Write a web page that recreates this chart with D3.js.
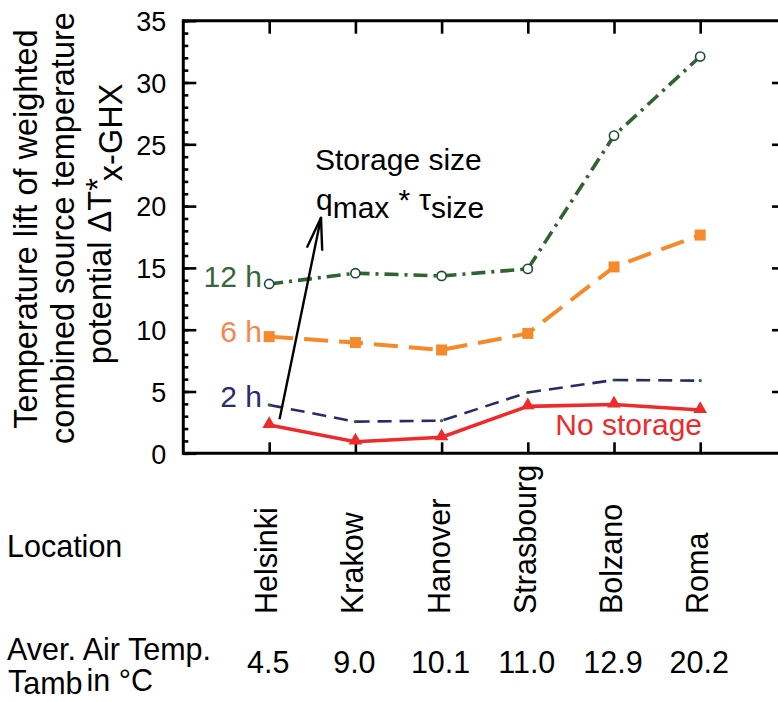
<!DOCTYPE html>
<html>
<head>
<meta charset="utf-8">
<script src="https://cdn.jsdelivr.net/npm/d3@7"></script>
<style>
  html, body { margin: 0; padding: 0; background: #fff; }
  svg { display: block; }
  text { font-family: "Liberation Sans", Arial, sans-serif; }
</style>
</head>
<body>
<svg id="chart" width="778" height="702"></svg>
<script>
// ---- data ----
const cities = ["Helsinki", "Krakow", "Hanover", "Strasbourg", "Bolzano", "Roma"];
const tAmb = ["4.5", "9.0", "10.1", "11.0", "12.9", "20.2"];
const noStorage = [2.29, 0.94, 1.30, 3.80, 3.95, 3.50];
const storage2h = [3.91, 2.56, 2.64, 4.92, 5.93, 5.88];
const storage6h = [9.44, 8.96, 8.36, 9.70, 15.08, 17.66];
const storage12h = [13.7, 14.57, 14.35, 14.92, 25.7, 32.1];
const yMajorTicks = [0, 5, 10, 15, 20, 25, 30, 35];
const yMinorTicks = d3.range(0, 36, 1);

// ---- layout ----
const svg = d3.select("#chart");
const frame = { left: 183.3, right: 785, top: 20.7, bottom: 453.3 };

const x = d3.scalePoint().domain(cities).range([269.2, 700.2]);
const y = d3.scaleLinear().domain([0, 35]).range([frame.bottom, frame.top]);

// frame lines
const axisStroke = "#000";
svg.append("line").attr("x1", frame.left).attr("x2", frame.right).attr("y1", frame.top).attr("y2", frame.top)
  .attr("stroke", axisStroke).attr("stroke-width", 3);
svg.append("line").attr("x1", frame.left).attr("x2", frame.right).attr("y1", frame.bottom).attr("y2", frame.bottom)
  .attr("stroke", axisStroke).attr("stroke-width", 3);
svg.append("line").attr("x1", frame.left).attr("x2", frame.left).attr("y1", frame.top - 1.5).attr("y2", frame.bottom + 1.5)
  .attr("stroke", axisStroke).attr("stroke-width", 3);

function styleAxis(g) {
  g.select(".domain").remove();
  g.selectAll(".tick line").attr("stroke", "#000").attr("stroke-width", 2.6);
}

// left minor ticks
svg.append("g").attr("transform", `translate(${frame.left},0)`)
  .call(d3.axisLeft(y).tickValues(yMinorTicks).tickSize(-5).tickFormat(""))
  .call(styleAxis);
// left major ticks + labels
const leftAxis = svg.append("g").attr("transform", `translate(${frame.left},0)`)
  .call(d3.axisLeft(y).tickValues(yMajorTicks).tickSize(-13).tickPadding(17).tickFormat(d3.format("d")))
  .call(styleAxis);
leftAxis.selectAll(".tick text")
  .attr("font-family", "'Liberation Sans', Arial, sans-serif")
  .attr("font-size", 27).attr("fill", "#000").attr("dy", "0.36em");

// right major ticks
svg.append("g").attr("transform", `translate(${frame.right},0)`)
  .call(d3.axisRight(y).tickValues(yMajorTicks.slice(1, -1)).tickSize(-13).tickFormat(""))
  .call(styleAxis);

// top & bottom ticks
svg.append("g").attr("transform", `translate(0,${frame.top})`)
  .call(d3.axisTop(x).tickSize(-13).tickFormat(""))
  .call(styleAxis);
svg.append("g").attr("transform", `translate(0,${frame.bottom})`)
  .call(d3.axisBottom(x).tickSize(-11).tickFormat(""))
  .call(styleAxis);

// ---- series ----
const colGreen = "#2f6330";
const colOrange = "#f68a2b";
const colNavy = "#2a2a66";
const colRed = "#ee2a2a";

const line = d3.line().x((d, i) => x(cities[i])).y(d => y(d));

svg.append("path").datum(storage12h).attr("d", line).attr("fill", "none")
  .attr("stroke", colGreen).attr("stroke-width", 3.6).attr("stroke-dasharray", "14,6,3,6");
svg.append("path").datum(storage6h).attr("d", line).attr("fill", "none")
  .attr("stroke", colOrange).attr("stroke-width", 4).attr("stroke-dasharray", "24,11");
svg.append("path").datum(storage2h).attr("d", line).attr("fill", "none")
  .attr("stroke", colNavy).attr("stroke-width", 2.6).attr("stroke-dasharray", "14,8");
svg.append("path").datum(noStorage).attr("d", line).attr("fill", "none")
  .attr("stroke", colRed).attr("stroke-width", 3.6);

// markers
svg.append("g").selectAll("circle").data(storage12h).join("circle")
  .attr("cx", (d, i) => x(cities[i])).attr("cy", d => y(d)).attr("r", 4.6)
  .attr("fill", "#fff").attr("stroke", "#1e4a3a").attr("stroke-width", 1.6);
svg.append("g").selectAll("rect").data(storage6h).join("rect")
  .attr("x", (d, i) => x(cities[i]) - 5.5).attr("y", d => y(d) - 5.5)
  .attr("width", 11).attr("height", 11).attr("fill", colOrange);
svg.append("g").selectAll("circle").data(storage2h).join("circle")
  .attr("cx", (d, i) => x(cities[i])).attr("cy", d => y(d)).attr("r", 1.6)
  .attr("fill", colGreen);
const tri = d3.symbol().type(d3.symbolTriangle).size(80);
svg.append("g").selectAll("path").data(noStorage).join("path")
  .attr("d", tri).attr("transform", (d, i) => `translate(${x(cities[i])},${y(d) - 1})`)
  .attr("fill", colRed);

// ---- series labels ----
const fontMain = 30;
svg.append("text").attr("x", 262).attr("y", 286.7).attr("text-anchor", "end")
  .attr("font-size", fontMain).attr("fill", "#35673a").text("12 h");
svg.append("text").attr("x", 262).attr("y", 341.7).attr("text-anchor", "end")
  .attr("font-size", fontMain).attr("fill", "#f4874a").text("6 h");
svg.append("text").attr("x", 262).attr("y", 406.7).attr("text-anchor", "end")
  .attr("font-size", fontMain).attr("fill", "#2e2a6c").text("2 h");
svg.append("text").attr("x", 702).attr("y", 435).attr("text-anchor", "end")
  .attr("font-size", fontMain).attr("fill", colRed).text("No storage");

// ---- storage size annotation ----
svg.append("text").attr("x", 315).attr("y", 170).attr("font-size", 30).attr("fill", "#000").text("Storage size");
const q = svg.append("text").attr("x", 316).attr("y", 210).attr("font-size", 30).attr("fill", "#000");
q.append("tspan").text("q");
q.append("tspan").attr("dy", 8).text("max");
q.append("tspan").attr("dy", -8).attr("dx", 9).text("*");
q.append("tspan").attr("dx", 9).text("\u03C4");
q.append("tspan").attr("dy", 8).text("size");

// arrow (annotation) positioned in data space
const arrowFrom = { xi: 0.12, v: 2.75 };
const arrowTo = { xi: 0.601, v: 19.05 };
const step = x.step();
const ax1 = x(cities[0]) + arrowFrom.xi * step, ay1 = y(arrowFrom.v);
const ax2 = x(cities[0]) + arrowTo.xi * step, ay2 = y(arrowTo.v);
svg.append("line").attr("x1", ax1).attr("y1", ay1).attr("x2", ax2).attr("y2", ay2)
  .attr("stroke", "#000").attr("stroke-width", 2.4);
const ang = Math.atan2(ay1 - ay2, ax1 - ax2);
const headLen = 32, headSpread = 0.24;
[ang - headSpread, ang + headSpread].forEach(a => {
  svg.append("line").attr("x1", ax2).attr("y1", ay2)
    .attr("x2", ax2 + headLen * Math.cos(a)).attr("y2", ay2 + headLen * Math.sin(a))
    .attr("stroke", "#000").attr("stroke-width", 2.4).attr("stroke-linecap", "round");
});

// ---- y-axis title ----
const yTitle = svg.append("g").attr("transform", "translate(0,229) rotate(-90)");
yTitle.append("text").attr("x", 0).attr("y", 37).attr("text-anchor", "middle")
  .attr("font-size", 32.5).attr("fill", "#000").text("Temperature lift of weighted");
yTitle.append("text").attr("x", 1).attr("y", 74).attr("text-anchor", "middle")
  .attr("font-size", 32.5).attr("fill", "#000").text("combined source temperature");
const t3 = yTitle.append("text").attr("x", 5).attr("y", 111).attr("text-anchor", "middle")
  .attr("font-size", 32.5).attr("fill", "#000");
t3.append("tspan").text("potential \u0394T");
t3.append("tspan").attr("dy", -2).text("*");
t3.append("tspan").attr("dy", 13).attr("dx", -3).text("x-GHX");

// ---- bottom table ----
const fontBottom = 30.5;
svg.append("text").attr("x", 7).attr("y", 557).attr("font-size", fontBottom).attr("fill", "#000").text("Location");
svg.append("g").selectAll("text").data(cities).join("text")
  .attr("transform", d => `translate(${x(d) + 8},614) rotate(-90)`)
  .attr("font-size", fontBottom).attr("fill", "#000").text(d => d);

svg.append("text").attr("x", 7).attr("y", 660).attr("font-size", fontBottom).attr("fill", "#000").text("Aver. Air Temp.");
const tl = svg.append("text").attr("x", 8).attr("y", 692).attr("font-size", fontBottom).attr("fill", "#000");
tl.append("tspan").text("T");
tl.append("tspan").attr("dy", 2).text("amb");
tl.append("tspan").attr("dy", -3).attr("dx", 4).text("in \u00B0C");

svg.append("g").selectAll("text").data(tAmb).join("text")
  .attr("x", (d, i) => x(cities[i]) - 1).attr("y", 673).attr("text-anchor", "middle")
  .attr("font-size", fontBottom).attr("fill", "#000").text(d => d);
</script>
</body>
</html>
